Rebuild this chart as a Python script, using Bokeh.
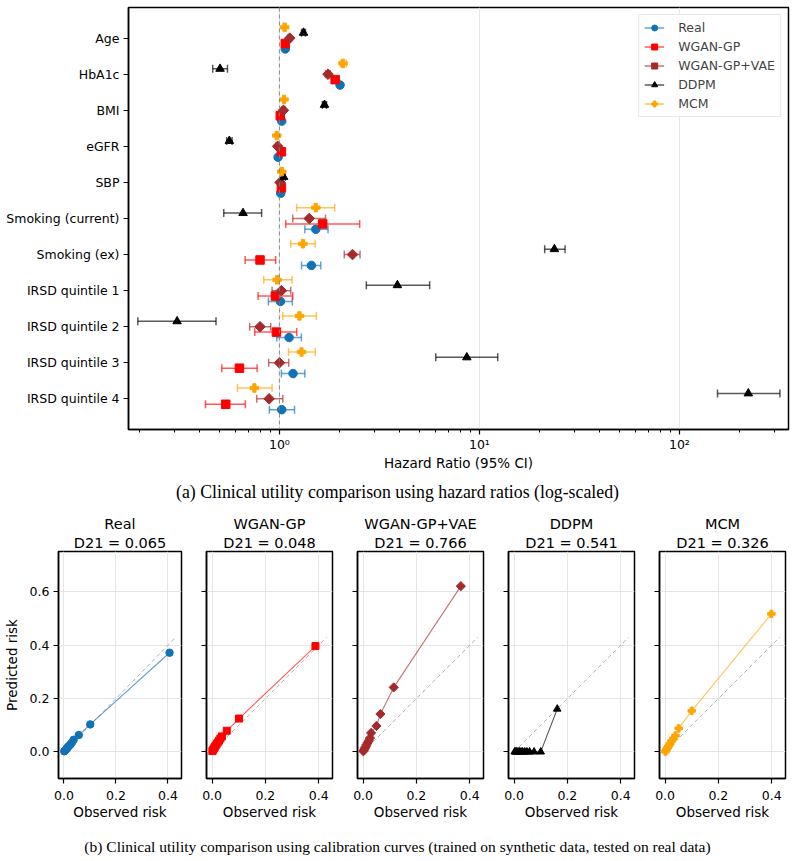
import numpy as np
from bokeh.plotting import figure
from bokeh.models import (Range1d, FixedTicker, Span, Legend, LegendItem, Div,
                          ColumnDataSource, NumeralTickFormatter, Title)
from bokeh.layouts import column, row
from bokeh.embed import file_html
from bokeh.resources import INLINE

# ---------------- data: hazard ratios ----------------
covariates = ["Age", "HbA1c", "BMI", "eGFR", "SBP", "Smoking (current)", "Smoking (ex)",
              "IRSD quintile 1", "IRSD quintile 2", "IRSD quintile 3", "IRSD quintile 4"]
models = ["Real", "WGAN-GP", "WGAN-GP+VAE", "DDPM", "MCM"]

hr_real = [1.07, 2.01, 1.027, 0.985, 1.015, 1.52, 1.445, 1.012, 1.118, 1.17, 1.027]
lo_real = [1.05, 1.96, 1.01, 0.97, 1.00, 1.34, 1.29, 0.881, 0.97, 1.023, 0.891]
hi_real = [1.09, 2.06, 1.045, 1.00, 1.03, 1.75, 1.61, 1.16, 1.288, 1.34, 1.19]

hr_wgan = [1.07, 1.90, 1.01, 1.023, 1.023, 1.646, 0.80, 0.955, 0.966, 0.631, 0.539]
lo_wgan = [1.05, 1.85, 0.99, 1.00, 1.005, 1.075, 0.674, 0.782, 0.753, 0.515, 0.427]
hi_wgan = [1.09, 1.95, 1.03, 1.045, 1.04, 2.52, 0.958, 1.166, 1.22, 0.774, 0.676]

hr_vae = [1.126, 1.75, 1.047, 0.98, 1.008, 1.41, 2.32, 1.023, 0.80, 1.0, 0.888]
lo_vae = [1.10, 1.70, 1.025, 0.96, 0.99, 1.166, 2.11, 0.919, 0.71, 0.884, 0.77]
hi_vae = [1.15, 1.80, 1.07, 1.00, 1.025, 1.70, 2.53, 1.14, 0.905, 1.113, 1.04]

hr_ddpm = [1.32, 0.505, 1.68, 0.562, 1.05, 0.658, 23.7, 3.89, 0.308, 8.65, 221.0]
lo_ddpm = [1.29, 0.464, 1.64, 0.545, 1.03, 0.527, 21.2, 2.72, 0.196, 6.05, 155.0]
hi_ddpm = [1.35, 0.55, 1.72, 0.58, 1.07, 0.815, 26.8, 5.64, 0.482, 12.35, 318.0]

hr_mcm = [1.063, 2.08, 1.055, 0.97, 1.027, 1.52, 1.31, 0.974, 1.26, 1.29, 0.75]
lo_mcm = [1.045, 2.02, 1.04, 0.955, 1.01, 1.22, 1.14, 0.835, 1.04, 1.11, 0.617]
hi_mcm = [1.08, 2.16, 1.07, 0.985, 1.045, 1.89, 1.51, 1.157, 1.53, 1.51, 0.919]

hr_tick_values = [1, 10, 100]
hr_tick_labels = ["10\u2070", "10\u00b9", "10\u00b2"]

# ---------------- data: calibration curves ----------------
d21 = [0.065, 0.048, 0.766, 0.541, 0.326]

obs_real = [0.001, 0.004, 0.007, 0.010, 0.013, 0.016, 0.020, 0.025, 0.030, 0.037, 0.057, 0.101, 0.406]
pred_real = [0.002, 0.005, 0.008, 0.012, 0.015, 0.019, 0.023, 0.028, 0.034, 0.045, 0.063, 0.103, 0.372]

obs_wgan = [0.001, 0.004, 0.007, 0.010, 0.013, 0.017, 0.021, 0.026, 0.031, 0.037, 0.055, 0.101, 0.388]
pred_wgan = [0.003, 0.008, 0.013, 0.018, 0.023, 0.029, 0.035, 0.042, 0.050, 0.058, 0.079, 0.125, 0.397]

obs_vae = [0.001, 0.004, 0.007, 0.010, 0.013, 0.017, 0.021, 0.026, 0.030, 0.050, 0.065, 0.115, 0.367]
pred_vae = [0.002, 0.008, 0.014, 0.020, 0.027, 0.034, 0.042, 0.052, 0.071, 0.097, 0.142, 0.242, 0.622]

obs_ddpm = [0.002, 0.006, 0.010, 0.015, 0.020, 0.026, 0.032, 0.040, 0.048, 0.058, 0.075, 0.100, 0.162]
pred_ddpm = [0.0, 0.0, 0.0, 0.0, 0.0, 0.0, 0.0, 0.0, 0.0, 0.0, 0.0, 0.0, 0.161]

obs_mcm = [0.001, 0.003, 0.006, 0.009, 0.012, 0.015, 0.019, 0.024, 0.031, 0.039, 0.051, 0.100, 0.399]
pred_mcm = [0.001, 0.005, 0.010, 0.015, 0.020, 0.025, 0.031, 0.040, 0.050, 0.061, 0.088, 0.154, 0.518]

diag_end = 0.43
risk_x_ticks = [0.0, 0.2, 0.4]
risk_y_ticks = [0.0, 0.2, 0.4, 0.6]

# ---------------- styling ----------------
FONT = "DejaVu Sans"
colors = ["#1172b5", "#ff0000", "#a52a2a", "#000000", "#ffa500"]
markers = ["circle", "square", "square", "triangle", "plus"]
marker_angles = [0.0, 0.0, np.pi / 4, 0.0, 0.0]
top_sizes = [8.5, 8.5, 7.5, 8.5, 8.5]
cal_sizes = [7.5, 7, 6.5, 7.5, 7.5]
row_offsets = [0.3, 0.15, 0.0, -0.15, -0.3]
GRID = "#e6e6e6"

hr_sets = [(hr_real, lo_real, hi_real), (hr_wgan, lo_wgan, hi_wgan), (hr_vae, lo_vae, hi_vae),
           (hr_ddpm, lo_ddpm, hi_ddpm), (hr_mcm, lo_mcm, hi_mcm)]
cal_sets = [(obs_real, pred_real), (obs_wgan, pred_wgan), (obs_vae, pred_vae),
            (obs_ddpm, pred_ddpm), (obs_mcm, pred_mcm)]


def style_axes(fig, tick_size="12px", label_size="13px"):
    fig.outline_line_color = "black"
    fig.outline_line_width = 1.5
    for ax in (fig.xaxis + fig.yaxis):
        ax.axis_line_width = 1.5
        ax.axis_line_color = "black"
        ax.major_tick_line_width = 1.2
        ax.major_tick_line_color = "black"
        ax.major_tick_in = 0
        ax.major_tick_out = 5
        ax.minor_tick_in = 0
        ax.minor_tick_out = 3
        ax.minor_tick_line_width = 1.0
        ax.major_label_text_font = FONT
        ax.major_label_text_font_size = tick_size
        ax.major_label_text_color = "black"
        ax.axis_label_text_font = FONT
        ax.axis_label_text_font_style = "normal"
        ax.axis_label_text_font_size = label_size
        ax.axis_label_text_color = "black"


# ---------------- forest plot of hazard ratios ----------------
n_rows = len(covariates)
top = figure(width=795, height=475, x_axis_type="log",
             x_range=Range1d(0.176, 351), y_range=Range1d(n_rows - 0.15, -0.85),
             output_backend="svg", toolbar_location=None,
             min_border_left=128, min_border_right=7, min_border_top=7, min_border_bottom=46)
style_axes(top, tick_size="12.5px", label_size="13.5px")
top.xaxis.ticker = FixedTicker(ticks=hr_tick_values,
                               minor_ticks=[0.2, 0.3, 0.4, 0.5, 0.6, 0.7, 0.8, 0.9,
                                            2, 3, 4, 5, 6, 7, 8, 9,
                                            20, 30, 40, 50, 60, 70, 80, 90, 200, 300])
top.xaxis.major_label_overrides = dict(zip(hr_tick_values, hr_tick_labels))
top.xaxis.major_label_text_font_size = "12.5px"
top.xaxis.major_label_standoff = 2
top.xaxis.axis_label = "Hazard Ratio (95% CI)"
top.xaxis.axis_label_standoff = 0
top.yaxis.ticker = FixedTicker(ticks=list(range(n_rows)))
top.yaxis.major_label_overrides = {i: c for i, c in enumerate(covariates)}
top.yaxis.minor_tick_line_color = None
top.yaxis.major_label_standoff = 4
top.ygrid.visible = False
top.xgrid.grid_line_color = GRID
top.xgrid.grid_line_width = 1

top.add_layout(Span(location=1, dimension="height", line_color="gray",
                    line_dash="4 3", line_width=0.9))

legend_items = []
for name, (hr, lo, hi), col, mk, ang, sz, off in zip(models, hr_sets, colors, markers,
                                                     marker_angles, top_sizes, row_offsets):
    src = ColumnDataSource(dict(y=[i + off for i in range(n_rows)], hr=hr, lo=lo, hi=hi))
    seg = top.segment(x0="lo", y0="y", x1="hi", y1="y", source=src,
                      line_color=col, line_alpha=0.65, line_width=1.5)
    for end in ("lo", "hi"):
        top.scatter(x=end, y="y", marker="dash", angle=np.pi / 2, size=8, source=src,
                    line_color=col, line_alpha=0.65, line_width=1.5)
    mark = top.scatter(x="hr", y="y", marker=mk, angle=ang, size=sz, source=src,
                       fill_color=col, line_color=col)
    legend_items.append(LegendItem(label=name, renderers=[seg, mark]))

legend = Legend(items=legend_items, location="top_right", margin=7, padding=5,
                spacing=4, glyph_width=20, glyph_height=15, label_height=15,
                label_standoff=14, label_text_font=FONT, label_text_font_size="12.5px",
                border_line_color="#d0d0d0", border_line_width=1,
                background_fill_alpha=0.85)
top.add_layout(legend)

serif = "font-family:'Liberation Serif';color:black;text-align:center;width:795px;"
cap_a = Div(text=f'<div style="{serif}font-size:17.8px;padding-top:5px">(a) Clinical utility '
                 'comparison using hazard ratios (log-scaled)</div>',
            width=795, height=35, margin=0)

# ---------------- calibration curves ----------------
x_rng = Range1d(-0.021, 0.452)
y_rng = Range1d(-0.1, 0.752)
panels = []
for k, (name, (obs, pred), col, mk, ang, sz, d) in enumerate(
        zip(models, cal_sets, colors, markers, marker_angles, cal_sizes, d21)):
    first = k == 0
    last = k == len(models) - 1
    left = 55 if first else 12
    right = 7 if last else 13
    width = left + 126 + right
    f = figure(width=width, height=315, x_range=x_rng, y_range=y_rng,
               output_backend="svg", toolbar_location=None,
               min_border_left=left, min_border_right=right,
               min_border_top=41, min_border_bottom=47)
    style_axes(f, tick_size="12.5px", label_size="13.5px")
    # two centred title lines: the one added later sits further from the frame
    for txt, stand in ((f"D21 = {d:.3f}", 2), (name, 0)):
        f.add_layout(Title(text=txt, align="center", text_font=FONT, text_font_size="14.5px",
                           text_font_style="normal", text_color="black", standoff=stand),
                     "above")
    f.xaxis.ticker = FixedTicker(ticks=risk_x_ticks)
    f.yaxis.ticker = FixedTicker(ticks=risk_y_ticks)
    f.xaxis.formatter = NumeralTickFormatter(format="0.0")
    f.yaxis.formatter = NumeralTickFormatter(format="0.0")
    f.xaxis.major_label_standoff = 7
    f.yaxis.major_label_standoff = 4
    f.xaxis.axis_label = "Observed risk"
    f.xaxis.axis_label_standoff = 1
    if first:
        f.yaxis.axis_label = "Predicted risk"
        f.yaxis.axis_label_standoff = 7
    else:
        f.yaxis.major_label_overrides = {t: "" for t in risk_y_ticks}
        f.yaxis.major_label_standoff = 0
    f.xgrid.grid_line_color = GRID
    f.ygrid.grid_line_color = GRID
    f.line([0, diag_end], [0, diag_end], line_color="gray", line_dash="4 3",
           line_width=0.9, line_alpha=0.7)
    src = ColumnDataSource(dict(obs=obs, pred=pred))
    f.line(x="obs", y="pred", source=src, line_color=col, line_width=1.1, line_alpha=0.65)
    f.scatter(x="obs", y="pred", marker=mk, angle=ang, size=sz, source=src,
              fill_color=col, line_color=col)
    panels.append(f)

cap_b = Div(text=f'<div style="{serif}font-size:15.5px;padding-top:11px">(b) Clinical utility '
                 'comparison using calibration curves (trained on synthetic data, tested on real '
                 'data)</div>',
            width=795, height=36, margin=0)

layout = column(top, cap_a, row(*panels, spacing=0), cap_b, spacing=0)
open("out.html", "w").write(file_html(layout, INLINE))
